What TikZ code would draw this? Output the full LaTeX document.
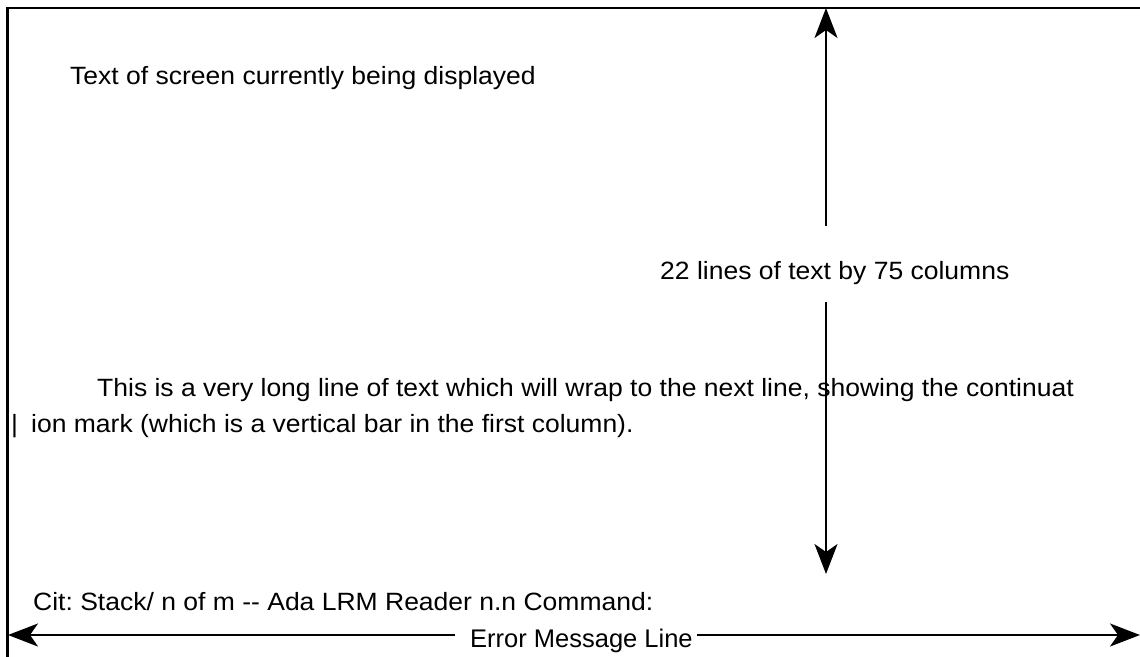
\documentclass[tikz,border=0pt]{standalone}
\usepackage{fontspec}
\setmainfont{Liberation Sans}[FakeStretch=1.06]
\newfontfamily\errfont{Liberation Sans}
\usetikzlibrary{arrows.meta}
\begin{document}
\frenchspacing
\begin{tikzpicture}[x=1pt,y=-1pt,
  txt/.style={inner sep=0pt, anchor=base west, font=\fontsize{25}{28}\selectfont},
  errtxt/.style={inner sep=0pt, anchor=base west, font=\errfont\fontsize{25.5}{28}\selectfont},
  arr/.style={line width=2pt, -{Stealth[length=30pt,width=23pt,inset=8pt]}},
  frame/.style={line width=2.6pt}]
\useasboundingbox (0,0) rectangle (1140,656);
% frame
\draw[frame] (1141,8) -- (7.5,8) -- (7.5,657);
% texts
\node[txt] (t1) at (70,84) {Text of screen currently being displayed};
\node[txt] (t2) at (660,279) {22 lines of text by 75 columns};
\node[txt] (t3) at (97,396) {This is a very long line of text which will wrap to the next line, showing the continuat};
\node[txt] (bar) at (11,432) {|};
\node[txt] (t4) at (31,432) {ion mark (which is a vertical bar in the first column).};
\node[txt] (t5) at (33,610) {Cit: Stack/ n of m -{}- Ada LRM Reader n.n Command:};
\node[errtxt] (err) at (470,647) {Error Message Line};
% vertical arrows
\coordinate (vupS) at (826,226);
\coordinate (vupE) at (826,8);
\coordinate (vdnS) at (826,302);
\coordinate (vdnE) at (826,574);
\draw[arr] (vupS) -- (vupE);
\draw[arr] (vdnS) -- (vdnE);
% horizontal arrows
\coordinate (hL) at (8,635);
\coordinate (hR) at (1140,635);
\coordinate (eL) at (455,635);
\coordinate (eR) at (697,635);
\draw[arr] (eL) -- (hL);
\draw[arr] (eR) -- (hR);
\end{tikzpicture}
\end{document}
